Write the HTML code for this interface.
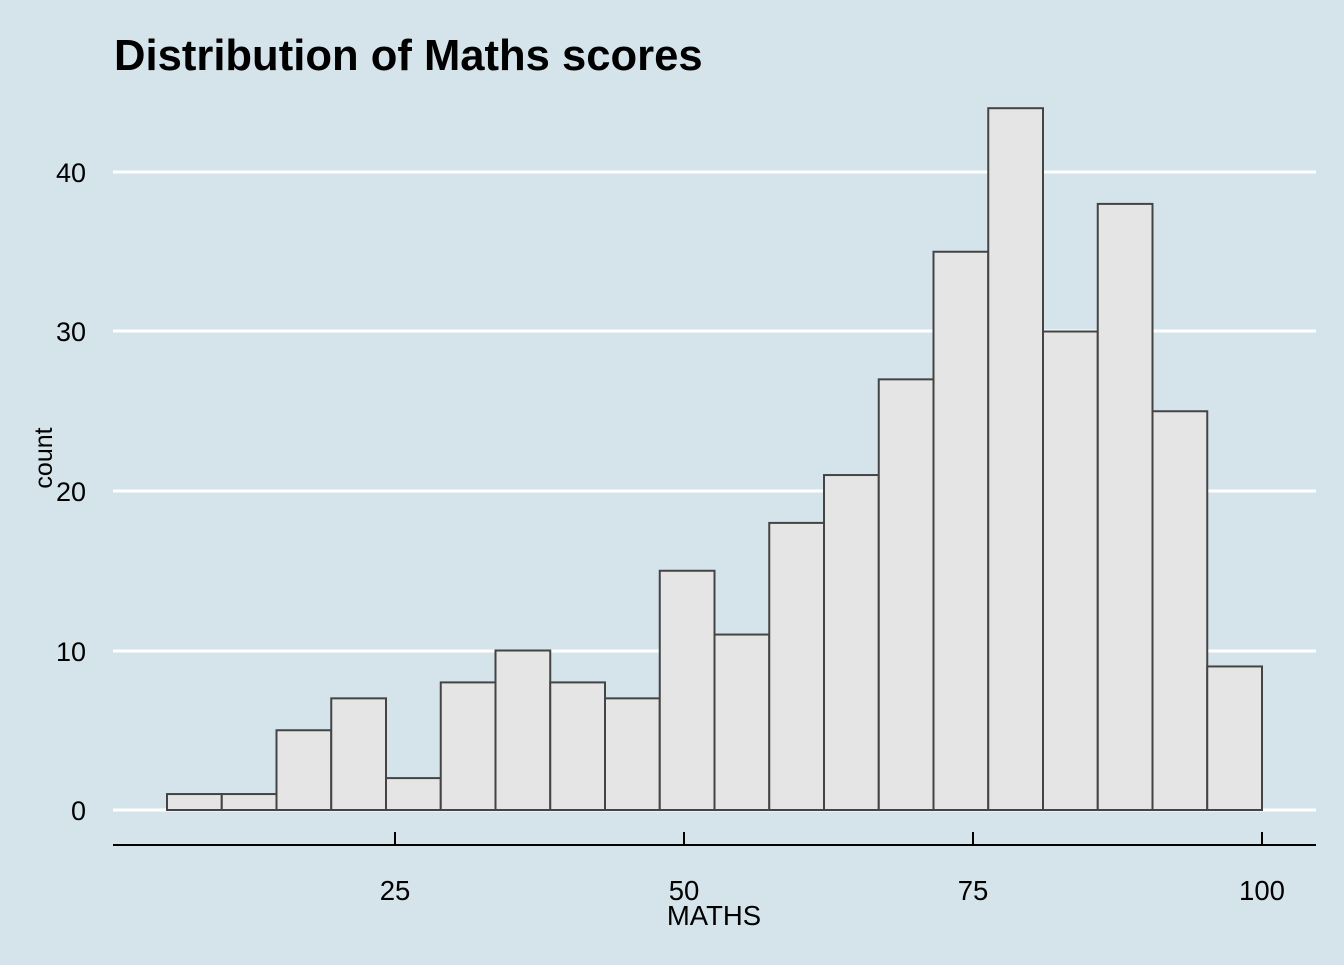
<!DOCTYPE html>
<html><head><style>body{margin:0;background:#d5e4eb}</style></head><body>
<svg width="1344" height="960" xmlns="http://www.w3.org/2000/svg" font-family="Liberation Sans, Arial, sans-serif">
<rect width="1344" height="960" fill="#d5e4eb"/>
<text x="114" y="70" font-size="43.6" font-weight="bold" fill="#000">Distribution of Maths scores</text>
<g stroke="#fff" stroke-width="3">
<line x1="113" y1="172" x2="1316" y2="172"/><line x1="113" y1="331" x2="1316" y2="331"/>
<line x1="113" y1="491" x2="1316" y2="491"/><line x1="113" y1="651" x2="1316" y2="651"/>
<line x1="113" y1="810" x2="1316" y2="810"/></g>
<g font-size="27" fill="#000" text-anchor="end">
<text x="86" y="182">40</text><text x="86" y="341">30</text><text x="86" y="501">20</text><text x="86" y="661">10</text><text x="86" y="820">0</text></g>
<g fill="#e5e5e5" stroke="#444" stroke-width="2">
<rect x="167" y="794.05" width="54.75" height="15.95"/>
<rect x="221.75" y="794.05" width="54.75" height="15.95"/>
<rect x="276.5" y="730.25" width="54.75" height="79.75"/>
<rect x="331.25" y="698.35" width="54.75" height="111.65"/>
<rect x="386" y="778.1" width="54.75" height="31.9"/>
<rect x="440.75" y="682.4" width="54.75" height="127.6"/>
<rect x="495.5" y="650.5" width="54.75" height="159.5"/>
<rect x="550.25" y="682.4" width="54.75" height="127.6"/>
<rect x="605" y="698.35" width="54.75" height="111.65"/>
<rect x="659.75" y="570.75" width="54.75" height="239.25"/>
<rect x="714.5" y="634.55" width="54.75" height="175.45"/>
<rect x="769.25" y="522.9" width="54.75" height="287.1"/>
<rect x="824" y="475.05" width="54.75" height="334.95"/>
<rect x="878.75" y="379.35" width="54.75" height="430.65"/>
<rect x="933.5" y="251.75" width="54.75" height="558.25"/>
<rect x="988.25" y="108.2" width="54.75" height="701.8"/>
<rect x="1043" y="331.5" width="54.75" height="478.5"/>
<rect x="1097.75" y="203.9" width="54.75" height="606.1"/>
<rect x="1152.5" y="411.25" width="54.75" height="398.75"/>
<rect x="1207.25" y="666.45" width="54.75" height="143.55"/>
</g>
<line x1="113" y1="845" x2="1316" y2="845" stroke="#000" stroke-width="2"/>
<g stroke="#000" stroke-width="2"><line x1="395" y1="832" x2="395" y2="845"/><line x1="684" y1="832" x2="684" y2="845"/><line x1="973" y1="832" x2="973" y2="845"/><line x1="1262" y1="832" x2="1262" y2="845"/></g>
<g font-size="27.5" fill="#000" text-anchor="middle">
<text x="395" y="900">25</text><text x="684" y="900">50</text><text x="973" y="900">75</text><text x="1262" y="900">100</text>
<text x="714" y="925">MATHS</text>
<text transform="translate(52,458) rotate(-90)" font-size="25">count</text></g>
</svg></body></html>
